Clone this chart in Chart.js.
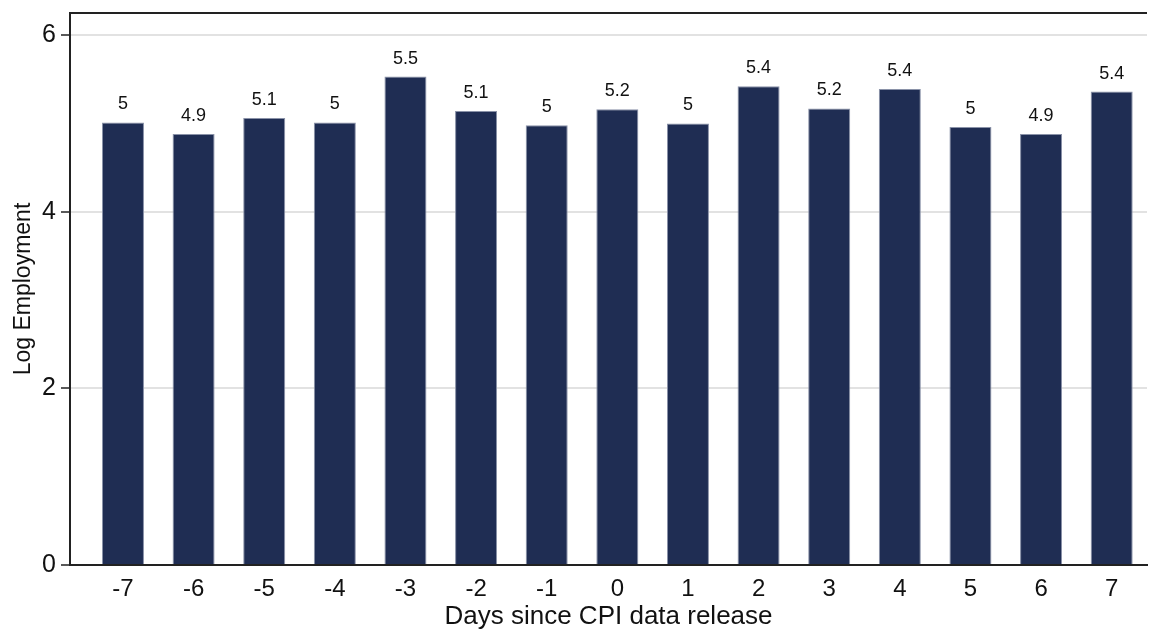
<!DOCTYPE html>
<html>
<head>
<meta charset="utf-8">
<script src="https://cdn.jsdelivr.net/npm/chart.js@4"></script>
<style>
  html, body { margin: 0; padding: 0; background: #fff; }
  #wrap { width: 1151px; height: 632px; }
</style>
</head>
<body>
<div id="wrap"><canvas id="barChart"></canvas></div>
<script>
// days relative to release and the mean log employment for each day
const days = [-7, -6, -5, -4, -3, -2, -1, 0, 1, 2, 3, 4, 5, 6, 7];
const logEmployment = [5.01, 4.88, 5.06, 5.01, 5.53, 5.14, 4.98, 5.16, 5.00, 5.42, 5.17, 5.39, 4.96, 4.88, 5.36];
const yTicks = [0, 2, 4, 6];

window.onload = main;

function main(){
    barChart(days, logEmployment);
}

// labels above the bars and the line along the top of the plot
const extras = {
    id: 'extras',
    afterDatasetsDraw(chart){
        const ctx = chart.ctx;
        const meta = chart.getDatasetMeta(0);
        ctx.save();
        ctx.font = '18px "Liberation Sans", Arial, sans-serif';
        ctx.fillStyle = '#111';
        ctx.textAlign = 'center';
        ctx.textBaseline = 'bottom';
        meta.data.forEach(function(bar, i){
            const txt = String(parseFloat(logEmployment[i].toFixed(1)));
            ctx.fillText(txt, bar.x, bar.y - 9);
        });
        const a = chart.chartArea;
        ctx.strokeStyle = '#222';
        ctx.lineWidth = 2;
        ctx.beginPath();
        ctx.moveTo(a.left - 1, a.top);
        ctx.lineTo(a.right, a.top);
        ctx.stroke();
        ctx.restore();
    }
};

function barChart(xs, ys){
    var ctx = document.getElementById('barChart').getContext('2d');
    var font = '"Liberation Sans", Arial, sans-serif';

    new Chart(ctx, {
        type: 'bar',
        data: {
            datasets: [{
                data: xs.map(function(x, i){ return {x: x, y: ys[i]}; }),
                backgroundColor: '#1f2d53',
                borderColor: '#8a92a8',
                borderWidth: 1,
                categoryPercentage: 1,
                barPercentage: 0.595
            }]
        },
        options: {
            responsive: true,
            maintainAspectRatio: false,
            animation: false,
            layout: { padding: { top: 13, right: 4, left: 0, bottom: 0 } },
            plugins: { legend: { display: false }, tooltip: { enabled: false } },
            scales: {
                x: {
                    type: 'linear',
                    offset: false,
                    min: -7.75,
                    max: 7.5,
                    afterBuildTicks: function(scale){
                        scale.ticks = xs.map(function(v){ return {value: v}; });
                    },
                    afterFit: function(scale){
                        scale.height = 67;
                        scale.paddingLeft = 0;
                        scale.paddingRight = 0;
                    },
                    grid: { display: false, drawTicks: false },
                    border: { display: true, color: '#222', width: 2 },
                    ticks: {
                        color: '#111',
                        padding: 10,
                        autoSkip: false,
                        font: { family: font, size: 24 }
                    },
                    title: {
                        display: true,
                        text: 'Days since CPI data release',
                        color: '#111',
                        padding: { top: 0, bottom: 0 },
                        font: { family: font, size: 26 }
                    }
                },
                y: {
                    min: 0,
                    max: 6.25,
                    afterBuildTicks: function(scale){
                        scale.ticks = yTicks.map(function(v){ return {value: v}; });
                    },
                    afterFit: function(scale){
                        scale.width = 70;
                        scale.paddingTop = 0;
                        scale.paddingBottom = 0;
                    },
                    grid: {
                        color: '#e2e2e2',
                        lineWidth: 2,
                        tickColor: '#222',
                        tickWidth: 1.5,
                        tickLength: 9
                    },
                    border: { display: true, color: '#222', width: 2 },
                    ticks: {
                        color: '#111',
                        padding: 5,
                        font: { family: font, size: 25 }
                    },
                    title: {
                        display: true,
                        text: 'Log Employment',
                        color: '#111',
                        padding: { top: 10, bottom: 0 },
                        font: { family: font, size: 23 }
                    }
                }
            }
        },
        plugins: [extras]
    });
}
</script>
</body>
</html>
